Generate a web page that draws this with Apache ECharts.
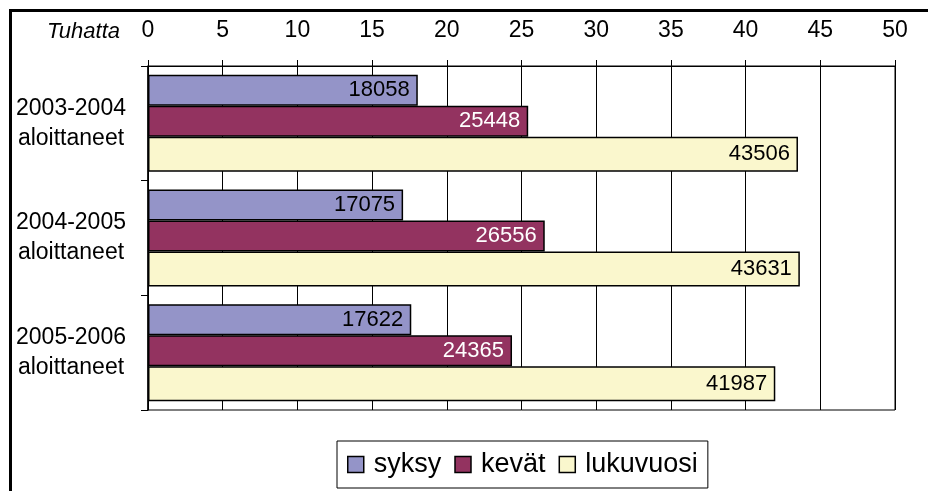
<!DOCTYPE html>
<html><head><meta charset="utf-8">
<script src="https://cdn.jsdelivr.net/npm/echarts@6/dist/echarts.min.js"></script>
<style>html,body{margin:0;padding:0;background:#fff}#c{width:928px;height:491px}</style>
</head><body><div id="c"></div>
<script>
const categories = ['2003-2004\naloittaneet', '2004-2005\naloittaneet', '2005-2006\naloittaneet'];
const syksy = [18058, 17075, 17622];
const kevat = [25448, 26556, 24365];
const lukuvuosi = [43506, 43631, 41987];
const seriesNames = ['syksy', 'kevät', 'lukuvuosi'];
const unitLabel = 'Tuhatta';

const FONT = 'Liberation Sans, Arial, sans-serif';
const chart = echarts.init(document.getElementById('c'));
function mk(name, data, color, labelColor, width) {
  return {
    name, type: 'bar', data, barWidth: width, barGap: '0%',
    itemStyle: { color, borderColor: '#000', borderWidth: 1.5 },
    label: { show: true, position: 'insideRight', distance: 8, color: labelColor,
      fontSize: 22, fontFamily: FONT },
    emphasis: { disabled: true }, animation: false
  };
}
chart.setOption({
  animation: false,
  grid: { left: 148, right: 33, top: 66, bottom: 81, show: true, borderColor: '#000', borderWidth: 1, backgroundColor: 'transparent' },
  xAxis: {
    type: 'value', position: 'top', min: 0, max: 50000, interval: 5000,
    axisLine: { show: true, lineStyle: { color: '#000', width: 1 } },
    axisTick: { show: true, length: 6, lineStyle: { color: '#000' } },
    axisLabel: { margin: 24, fontSize: 23, color: '#000', fontFamily: FONT, formatter: v => String(v / 1000) },
    splitLine: { show: true, lineStyle: { color: '#000', width: 1 } }
  },
  yAxis: {
    type: 'category', data: categories, inverse: true,
    axisLine: { show: true, lineStyle: { color: '#000', width: 1.5 } },
    axisTick: { show: true, length: 7, lineStyle: { color: '#000' } },
    axisLabel: { fontSize: 23, color: '#000', fontFamily: FONT, align: 'center', margin: 77, lineHeight: 30 }
  },
  legend: {
    left: 337, top: 441, orient: 'horizontal',
    padding: [10, 10, 10, 10], itemGap: 13, itemWidth: 16, itemHeight: 16,
    borderColor: '#000', borderWidth: 1,
    icon: 'rect',
    itemStyle: { borderColor: '#000', borderWidth: 1.5 },
    textStyle: { fontSize: 27, color: '#000', fontFamily: FONT, padding: [0, 0, 0, 5] },
    data: seriesNames
  },
  graphic: [
    { type: 'rect', shape: { x: 10.5, y: 10.5, width: 960, height: 520 }, style: { fill: 'none', stroke: '#000', lineWidth: 3 }, silent: true },
    { type: 'text', style: { x: 120, y: 32, text: unitLabel, textAlign: 'right', textVerticalAlign: 'middle', fill: '#000', font: 'italic 22px Liberation Sans, Arial, sans-serif' } }
  ],
  series: [
    mk(seriesNames[0], syksy, '#9494C8', '#000', 31),
    mk(seriesNames[1], kevat, '#933360', '#fff', 31),
    mk(seriesNames[2], lukuvuosi, '#FAF7CD', '#000', 35)
  ]
});
</script></body></html>
